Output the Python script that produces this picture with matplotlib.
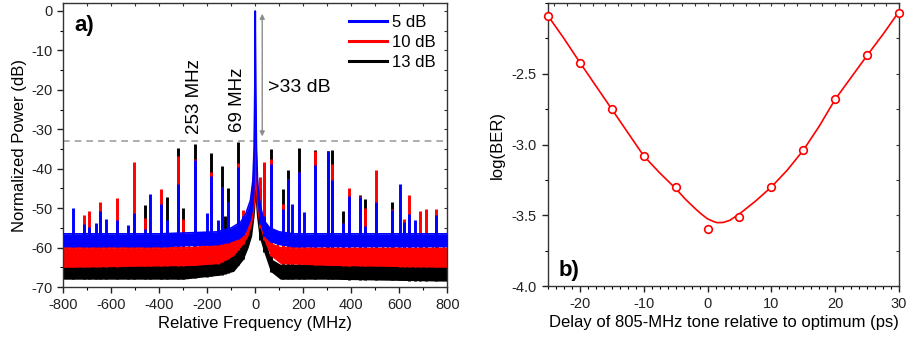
import numpy as np
import matplotlib
matplotlib.use("Agg")
import matplotlib.pyplot as plt
from matplotlib.ticker import MultipleLocator

plt.rcParams['font.family'] = ['Liberation Sans', 'DejaVu Sans']
plt.rcParams['axes.unicode_minus'] = False

# ---------------- Panel a data ----------------
series_labels = ["5 dB", "10 dB", "13 dB"]

# noise floor bands (upper / lower edge) incl. the central carrier
blue_floor_f  = [-800, -400, -160, -100, -60, -40, -20, -10, -5, -2, 0, 2, 5, 10, 20, 35, 60, 100, 160, 400, 800]
blue_floor_hi = [-56.5, -56.5, -56, -55, -53.5, -51.5, -48, -43, -35, -20, 0, -20, -35, -44, -49, -53, -55, -56, -56.5, -56.5, -56.5]
blue_floor_lo = [-59.8, -59.8, -59.3, -58.5, -57.5, -56, -53, -50, -46, -40, -30, -40, -46, -50, -54, -57, -58.5, -59.3, -59.8, -59.8, -59.8]

red_floor_f  = [-800, -250, -150, -90, -50, -30, -15, -5, 0, 5, 15, 35, 63, 104, 300, 800]
red_floor_hi = [-60, -60, -59, -58, -56, -53, -48, -40, -30, -40, -48, -55.6, -59, -60, -60.2, -60.2]
red_floor_lo = [-65, -64.5, -64, -62, -59, -57, -54, -50, -45, -50, -54, -58, -62, -64, -64.5, -65]

black_floor_f  = [-800, -300, -150, -90, -50, -30, -15, -5, 0, 5, 15, 35, 63, 104, 300, 800]
black_floor_hi = [-64.5, -64, -62.5, -61, -58, -55, -50, -42, -30, -42, -50, -57, -63, -64.5, -64.5, -64.5]
black_floor_lo = [-68, -68, -67, -66, -63, -60, -57, -52, -48, -52, -57, -61, -66, -68, -68, -68.5]

# discrete spurious tones: frequency (MHz) and peak level for each series (dB)
spur_f     = [-758, -712, -691, -665, -646, -622, -576, -530, -506, -461, -437, -391, -369, -324, -301,
              -253, -203, -185, -154, -139, -125, -115, -70, -50, 20, 35, 65, 115, 135, 153, 181, 202,
              250, 303, 320, 366, 391, 435, 456, 504, 570, 602, 618, 640, 665, 686, 711, 755]
spur_black = [-60, -60, -60, -60, -60, -60, -60, -60, -60, -49.1, -60, -60, -47.2, -34.7, -49.9,
              -33.6, -60, -36.0, -60, -39.4, -52.1, -44.9, -33.2, -55, -45, -38.5, -34.9, -45.1, -40.4, -60, -34.7, -60,
              -35.3, -35.6, -35.3, -50.7, -60, -46.6, -47.6, -60, -48.4, -60, -60, -60, -60, -60, -60, -60]
spur_red   = [-60, -51.8, -50.8, -60, -48.4, -60, -47.4, -60, -38.4, -52.5, -60, -45.1, -60, -36.8, -52.8,
              -37.4, -60, -40.7, -60, -44.7, -60, -48.5, -38.5, -50.5, -42, -38.3, -37.4, -49.0, -42.5, -60, -40.7, -60,
              -35.4, -35.6, -38.7, -53.8, -44.8, -46.8, -50.0, -40.2, -50.1, -60, -52.7, -46.6, -60, -50.7, -50.2, -50.1]
spur_blue  = [-50.0, -54.1, -54.8, -53.8, -50.8, -52.7, -53.1, -54.2, -51.2, -55.2, -46.3, -48.9, -53.1, -43.8, -57,
              -37.7, -51.1, -41.9, -52.9, -44.7, -56, -48.5, -39.6, -52, -50, -52, -38.7, -50.1, -42.5, -48.9, -40.7, -51.0,
              -39.1, -35.6, -42.9, -53.8, -47.0, -47.2, -54.4, -48.4, -50.4, -43.8, -53.5, -51.4, -53.1, -58, -58, -51.8]

# small comb of tones on the 10 dB trace just above its floor
red_comb_f = [-785, -762, -740, -716, -693, -670, -647, -624, -600, -577, -554, -531, -508, -485, -462, -438,
              -415, -392, -369, -346, -323, -300, -277, -254, -231, -208, -185, -162, -139, -116, -93,
              93, 116, 139, 162, 185, 208, 231, 254, 277, 300, 323, 346, 369, 392, 415, 438, 462, 485, 508,
              531, 554, 577, 600, 624, 647, 670, 693, 716, 740, 762, 785]
red_comb_top = -57.5

threshold_db = -33

# ---------------- Panel b data ----------------
delay_ps = [-25, -20, -15, -10, -5, 0, 5, 10, 15, 20, 25, 30]
log_ber = [-2.09, -2.42, -2.75, -3.08, -3.30, -3.60, -3.51, -3.30, -3.04, -2.68, -2.37, -2.07]

fit_delay = [-25, -22.5, -20, -17.5, -15, -12.5, -10, -7.5, -5, -3.5, -2, -1, 0, 1, 1.5, 2.5, 3.5, 5,
             7.5, 10, 12.5, 15, 17.5, 20, 22.5, 25, 27.5, 30]
fit_logber = [-2.09, -2.25, -2.42, -2.585, -2.75, -2.915, -3.08, -3.20, -3.31, -3.385, -3.45, -3.49, -3.525,
              -3.545, -3.552, -3.550, -3.535, -3.49, -3.40, -3.30, -3.18, -3.04, -2.87, -2.68, -2.525,
              -2.37, -2.22, -2.06]

# ---------------- Figure ----------------
fig = plt.figure(figsize=(9.13, 3.43), dpi=100)
axa = fig.add_axes([0.0693, 0.163, 0.4206, 0.828])
axb = fig.add_axes([0.6002, 0.166, 0.3845, 0.825])

BLUE, RED, BLACK = '#0000ff', '#ff0000', '#000000'

def draw_series(ax, f, hi, lo, sf, stop, color, z, label):
    ax.fill_between(f, lo, hi, color=color, lw=0, zorder=z)
    ax.plot(f, hi, color=color, lw=1.2, zorder=z, label=label)
    bottom = np.interp(sf, f, lo)
    ax.vlines(sf, bottom, stop, color=color, lw=2.1, zorder=z)

draw_series(axa, black_floor_f, black_floor_hi, black_floor_lo, spur_f, spur_black, BLACK, 1, series_labels[2])
draw_series(axa, red_floor_f, red_floor_hi, red_floor_lo, spur_f, spur_red, RED, 2, series_labels[1])
axa.vlines(red_comb_f, np.interp(red_comb_f, red_floor_f, red_floor_lo), red_comb_top, color=RED, lw=1.5, zorder=2)
draw_series(axa, blue_floor_f, blue_floor_hi, blue_floor_lo, spur_f, spur_blue, BLUE, 3, series_labels[0])

axa.axhline(threshold_db, color='#a0a0a0', lw=1.2, ls=(0, (4, 3)), zorder=0.5)
axa.annotate('', xy=(29, 0), xytext=(29, -32.5),
             arrowprops=dict(arrowstyle='<|-|>', color='#8c8c8c', lw=1.0, mutation_scale=7), zorder=5)
axa.text(52, -19.5, '>33 dB', fontsize=14, va='center', ha='left')
axa.text(-254, -31.2, '253 MHz', rotation=90, fontsize=13.5, ha='center', va='bottom')
axa.text(-73, -30.8, '69 MHz', rotation=90, fontsize=13.5, ha='center', va='bottom')
axa.text(-752, -3.8, 'a)', fontsize=16, fontweight='bold', va='center', ha='left')

h, l = axa.get_legend_handles_labels()
order = [l.index(s) for s in series_labels]
leg = axa.legend([h[i] for i in order], [l[i] for i in order], loc='upper right',
                 bbox_to_anchor=(1.0, 1.0), frameon=False, fontsize=12, handlelength=2.3,
                 handletextpad=0.3, labelspacing=0.3, borderaxespad=0.3)
for line in leg.get_lines():
    line.set_linewidth(2.2)

axa.set_xlim(-800, 800)
axa.set_ylim(-70, 2)
axa.xaxis.set_major_locator(MultipleLocator(200))
axa.xaxis.set_minor_locator(MultipleLocator(100))
axa.yaxis.set_major_locator(MultipleLocator(10))
axa.yaxis.set_minor_locator(MultipleLocator(5))
axa.set_xlabel('Relative Frequency (MHz)', fontsize=12, labelpad=3)
axa.set_ylabel('Normalized Power (dB)', fontsize=12, labelpad=3)

axb.plot(fit_delay, fit_logber, color=RED, lw=1.2, zorder=2)
axb.plot(delay_ps, log_ber, ls='none', marker='o', ms=5.5, mfc='white', mec=RED, mew=1.2, zorder=3, clip_on=False)
axb.set_xlim(-25, 30)
axb.set_ylim(-4.0, -2.0)
axb.xaxis.set_minor_locator(MultipleLocator(1.25))
axb.yaxis.set_minor_locator(MultipleLocator(0.25))
axb.set_yticks([-4.0, -3.5, -3.0, -2.5])
axb.set_yticklabels(['-4.0', '-3.5', '-3.0', '-2.5'])
axb.set_xticks([-20, -10, 0, 10, 20, 30])
axb.set_xticklabels(['-20', '-10', '0', '10', '20', '30'])
axb.text(-23.3, -3.89, 'b)', fontsize=16, fontweight='bold', va='center', ha='left')
axb.set_xlabel('Delay of 805-MHz tone relative to optimum (ps)', fontsize=12, labelpad=3)
axb.set_ylabel('log(BER)', fontsize=12, labelpad=5)

for ax in (axa, axb):
    for s in ax.spines.values():
        s.set_color('#333333')
        s.set_linewidth(1.0)
    ax.tick_params(which='major', direction='out', length=4, width=1, labelsize=10.5, pad=4, colors='#222222')
    ax.tick_params(which='minor', direction='out', length=2.5, width=0.8)

# inward ticks on top/right spines
for ax, xs, ys in ((axa, 100, 5), (axb, 2, 0.25)):
    top = ax.secondary_xaxis('top')
    top.xaxis.set_major_locator(MultipleLocator(xs))
    top.tick_params(direction='in', length=2.5, width=0.8, labeltop=False, colors='#333333')
    top.spines['top'].set_visible(False)
    right = ax.secondary_yaxis('right')
    right.yaxis.set_major_locator(MultipleLocator(ys))
    right.tick_params(direction='in', length=2.5, width=0.8, labelright=False, colors='#333333')
    right.spines['right'].set_visible(False)

fig.savefig('out.png', dpi=100)
